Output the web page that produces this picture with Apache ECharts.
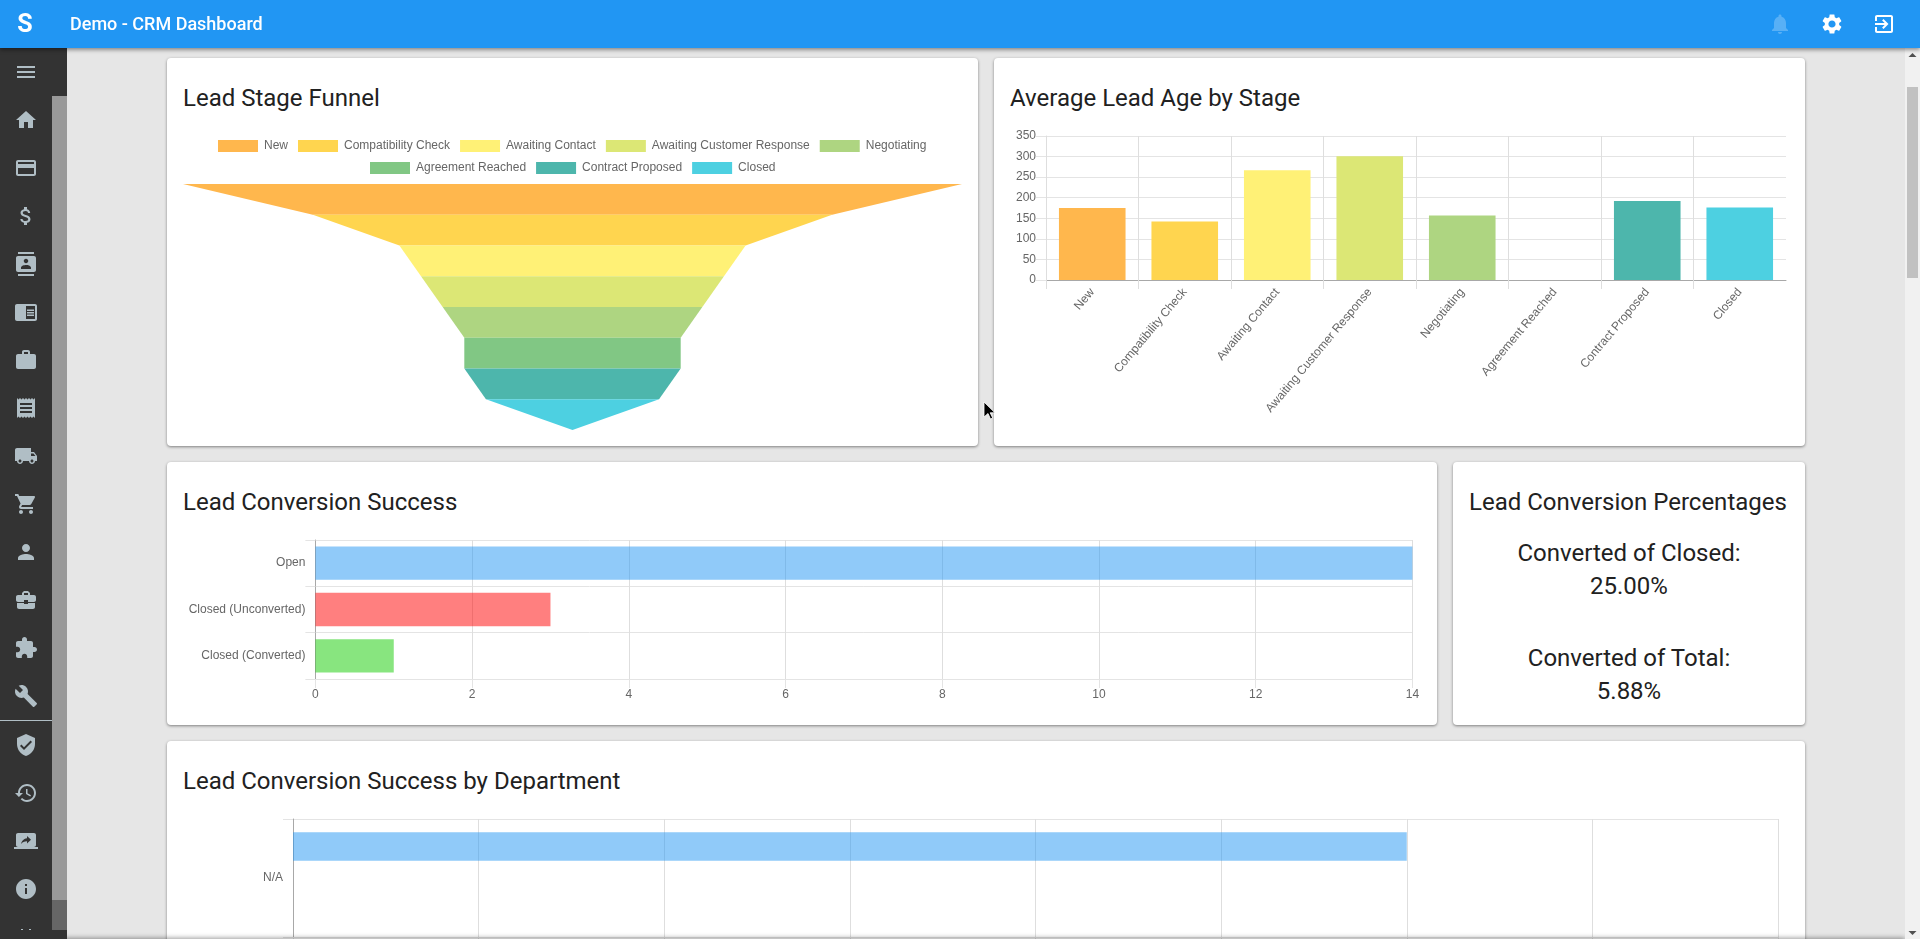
<!DOCTYPE html>
<html lang="en">
<head>
<meta charset="utf-8">
<title>Demo - CRM Dashboard</title>
<script src="https://cdn.jsdelivr.net/npm/echarts@6/dist/echarts.min.js"></script>
<style>
html,body{margin:0;padding:0;width:1920px;height:939px;overflow:hidden;background:#e6e6e6;font-family:Roboto,sans-serif;color:#212121}
.abs{position:absolute}
#header{left:0;top:0;width:1920px;height:48px;background:#2196f3;box-shadow:0 2px 4px rgba(0,0,0,.4);z-index:5;color:#fff}
#logo{left:16px;top:0;width:18px;text-align:center;line-height:48px;font-size:25px;font-weight:700}
#app{left:70px;top:0;line-height:48px;font-size:18px;font-weight:500;white-space:nowrap}
#side{left:0;top:48px;width:67px;height:891px;background:#333;z-index:4}
#track{left:52px;top:48px;width:15px;height:804px;background:#999}
#thumb{left:52px;top:852px;width:15px;height:30px;background:#666}
#divider{left:0;top:671.5px;width:52px;height:1px;background:#b0bec5}
.card{position:absolute;background:#fff;border-radius:4px;box-shadow:0 1px 3px rgba(0,0,0,.45);overflow:hidden}
.card h2{position:absolute;left:16px;top:22px;margin:0;font-size:24px;font-weight:400;line-height:36px;white-space:nowrap}
.chart{position:absolute;left:0;top:0}
#pct{position:absolute;left:0;right:0;top:75px;text-align:center;font-size:24px;line-height:33px}
#pct p{margin:0 0 39px}
#bar{left:1905px;top:48px;width:15px;height:891px;background:#f1f1f1;z-index:3}
#barThumb{left:2px;top:39px;width:11px;height:191px;background:#c1c1c1}
#fade{left:0;top:939px;width:1905px;height:10px;box-shadow:0 -1px 5px rgba(0,0,0,.4);z-index:2}
</style>
</head>
<body>
<div id="header" class="abs">
  <div id="logo" class="abs">S</div>
  <div id="app" class="abs">Demo - CRM Dashboard</div>
</div>
<div id="side" class="abs"></div>
<div id="bar" class="abs"><div id="barThumb" class="abs"></div></div>
<div id="fade" class="abs"></div>

<div class="card" style="left:167px;top:58px;width:811px;height:388px"><h2>Lead Stage Funnel</h2><div id="funnel" class="chart" style="width:811px;height:388px"></div></div>
<div class="card" style="left:994px;top:58px;width:811px;height:388px"><h2>Average Lead Age by Stage</h2><div id="age" class="chart" style="width:811px;height:388px"></div></div>
<div class="card" style="left:167px;top:462px;width:1270px;height:263px"><h2>Lead Conversion Success</h2><div id="success" class="chart" style="width:1270px;height:263px"></div></div>
<div class="card" style="left:1453px;top:462px;width:352px;height:263px"><h2>Lead Conversion Percentages</h2>
  <div id="pct"><p id="pctClosed"></p><p id="pctTotal"></p></div>
</div>
<div class="card" style="left:167px;top:741px;width:1638px;height:400px"><h2>Lead Conversion Success by Department</h2><div id="dept" class="chart" style="width:1638px;height:400px"></div></div>

<svg class="abs" style="left:983px;top:401px;z-index:6" width="14" height="21" viewBox="0 0 14 21"><path d="M1 1v15l4-3.5 2.5 5.5 2.2-1-2.5-5.2H12z" fill="#000" stroke="#fff" stroke-width=".8"/></svg>

<script>
// ---------- chart data ----------
const stages = ['New','Compatibility Check','Awaiting Contact','Awaiting Customer Response','Negotiating','Agreement Reached','Contract Proposed','Closed'];
const funnelCounts = [18,12,8,7,6,5,5,4];
const ageValues = [175,142,267,301,157,0,192,176];
const ageTicks = {min:0,max:350,step:50};
const outcomes = ['Open','Closed (Unconverted)','Closed (Converted)'];
const outcomeCounts = [14,3,1];
const departments = ['N/A'];
const deptOpen = [12];
const deptUnconverted = [0];
const deptConverted = [0];
const convertedOfClosed = ['Converted of Closed:','25.00%'];
const convertedOfTotal = ['Converted of Total:','5.88%'];
// ---------- palette ----------
const stageColors = ['#ffb74d','#ffd54f','#fff176','#dce775','#aed581','#81c784','#4db6ac','#4dd0e1'];
const outcomeColors = ['rgba(33,150,243,.5)','rgba(255,0,0,.5)','rgba(17,204,0,.5)'];

document.getElementById('pctClosed').innerHTML = convertedOfClosed.join('<br>');
document.getElementById('pctTotal').innerHTML = convertedOfTotal.join('<br>');

const FONT = '"Liberation Sans",Arial,sans-serif';
const GRID_H = '#e4e4e4', GRID_V = '#dedede', ZERO = '#a8a8a8', TXT = '#666';
const label = {color:TXT,fontSize:12,fontFamily:FONT};

// Funnel
echarts.init(document.getElementById('funnel')).setOption({
  animation:false,
  legend:[
    {left:51,top:82,padding:0,itemWidth:40,itemHeight:12,itemGap:10,icon:'rect',
     textStyle:Object.assign({padding:[0,0,0,1]},label),data:stages.slice(0,5)},
    {left:203,top:104,padding:0,itemWidth:40,itemHeight:12,itemGap:10,icon:'rect',
     textStyle:Object.assign({padding:[0,0,0,1]},label),data:stages.slice(5)}
  ],
  series:[{type:'funnel',left:16,top:126,width:779,height:246,min:0,max:18,minSize:0,maxSize:'100%',
    sort:'none',gap:0,label:{show:false},labelLine:{show:false},itemStyle:{borderWidth:0},
    data:stages.map((s,i)=>({name:s,value:funnelCounts[i],itemStyle:{color:stageColors[i]}}))}]
});

// Average age
echarts.init(document.getElementById('age')).setOption({
  animation:false,
  graphic:[{type:'rect',shape:{x:791,y:223,width:3,height:10},style:{fill:'#fff'},z:100}],
  grid:{left:52,top:78,width:740,height:144},
  xAxis:{type:'category',data:stages,
    axisLine:{lineStyle:{color:ZERO}},
    axisTick:{show:true,length:9,lineStyle:{color:GRID_V}},
    splitLine:{show:true,showMaxLine:false,lineStyle:{color:GRID_V}},
    axisLabel:Object.assign({rotate:50,interval:0,margin:10},label)},
  yAxis:{type:'value',min:ageTicks.min,max:ageTicks.max,interval:ageTicks.step,
    axisLine:{show:true,lineStyle:{color:GRID_V}},
    axisTick:{show:true,length:10,lineStyle:{color:GRID_H}},
    splitLine:{lineStyle:{color:GRID_H}},
    axisLabel:Object.assign({margin:10,padding:[0,0,2,0]},label)},
  series:[{type:'bar',barWidth:'72%',data:ageValues,itemStyle:{color:p=>stageColors[p.dataIndex]}}]
});

// Conversion success
echarts.init(document.getElementById('success')).setOption({
  animation:false,
  grid:{left:148.4,top:78,width:1097,height:139},
  xAxis:{type:'value',min:0,max:14,interval:2,
    axisLine:{show:true,lineStyle:{color:GRID_H}},
    axisTick:{show:true,length:9,lineStyle:{color:GRID_H}},
    splitLine:{lineStyle:{color:GRID_V}},
    axisLabel:Object.assign({margin:10},label)},
  yAxis:{type:'category',inverse:true,data:outcomes,
    axisLine:{lineStyle:{color:ZERO}},
    axisTick:{show:true,length:10,lineStyle:{color:GRID_H}},
    splitLine:{show:true,lineStyle:{color:GRID_H}},
    axisLabel:Object.assign({margin:10},label)},
  series:[{type:'bar',barWidth:'72%',data:outcomeCounts,itemStyle:{color:p=>outcomeColors[p.dataIndex]}}]
});

// Conversion by department (only the top of this chart is on screen)
const deptBar = (name,data,color)=>({type:'bar',name,data,barWidth:28.4,barGap:'11%',itemStyle:{color}});
echarts.init(document.getElementById('dept')).setOption({
  animation:false,
  grid:{left:126,top:78,width:1485,height:118},
  xAxis:{type:'value',min:0,max:16,interval:2,
    axisLine:{show:true,lineStyle:{color:GRID_H}},
    axisTick:{show:true,length:9,lineStyle:{color:GRID_H}},
    splitLine:{lineStyle:{color:GRID_V}},
    axisLabel:Object.assign({margin:10},label)},
  yAxis:{type:'category',inverse:true,data:departments,
    axisLine:{lineStyle:{color:ZERO}},
    axisTick:{show:true,length:10,lineStyle:{color:GRID_H}},
    splitLine:{show:true,lineStyle:{color:GRID_H}},
    axisLabel:Object.assign({margin:10},label)},
  series:[
    deptBar('Open',deptOpen,outcomeColors[0]),
    deptBar('Closed (Unconverted)',deptUnconverted,outcomeColors[1]),
    deptBar('Closed (Converted)',deptConverted,outcomeColors[2])
  ]
});

// ---------- page chrome icons ----------
const ICONS = {
 menu:'M3 18h18v-2H3v2zm0-5h18v-2H3v2zm0-7v2h18V6H3z',
 home:'M10 20v-6h4v6h5v-8h3L12 3 2 12h3v8z',
 card:'M20 4H4c-1.11 0-1.99.89-1.99 2L2 18c0 1.11.89 2 2 2h16c1.11 0 2-.89 2-2V6c0-1.11-.89-2-2-2zm0 14H4v-6h16v6zm0-10H4V6h16v2z',
 money:'M11.8 10.9c-2.27-.59-3-1.2-3-2.15 0-1.09 1.01-1.85 2.7-1.85 1.78 0 2.44.85 2.5 2.1h2.21c-.07-1.72-1.12-3.3-3.21-3.81V3h-3v2.16c-1.94.42-3.5 1.68-3.5 3.61 0 2.31 1.91 3.46 4.7 4.13 2.5.6 3 1.48 3 2.41 0 .69-.49 1.79-2.7 1.79-2.06 0-2.87-.92-2.98-2.1h-2.2c.12 2.19 1.76 3.42 3.68 3.83V21h3v-2.15c1.95-.37 3.5-1.5 3.5-3.55 0-2.84-2.43-3.81-4.7-4.4z',
 contacts:'M20 0H4v2h16V0zM4 24h16v-2H4v2zM20 4H4c-1.1 0-2 .9-2 2v12c0 1.1.9 2 2 2h16c1.1 0 2-.9 2-2V6c0-1.1-.9-2-2-2zm-8 2.75c1.24 0 2.25 1.01 2.25 2.25s-1.01 2.25-2.25 2.25S9.75 10.24 9.75 9 10.76 6.75 12 6.75zM17 17H7v-1.5c0-1.67 3.33-2.5 5-2.5s5 .83 5 2.5V17z',
 reader:'M13 12h7v1.5h-7zm0-2.5h7V11h-7zm0 5h7V16h-7zM21 4H3c-1.1 0-2 .9-2 2v13c0 1.1.9 2 2 2h18c1.1 0 2-.9 2-2V6c0-1.1-.9-2-2-2zm0 15h-9V6h9v13z',
 work:'M20 6h-4V4c0-1.11-.89-2-2-2h-4c-1.11 0-2 .89-2 2v2H4c-1.11 0-1.99.89-1.99 2L2 19c0 1.11.89 2 2 2h16c1.11 0 2-.89 2-2V8c0-1.11-.89-2-2-2zm-6 0h-4V4h4v2z',
 receipt:'M18 17H6v-2h12v2zm0-4H6v-2h12v2zm0-4H6V7h12v2zM3 22l1.5-1.5L6 22l1.5-1.5L9 22l1.5-1.5L12 22l1.5-1.5L15 22l1.5-1.5L18 22l1.5-1.5L21 22V2l-1.5 1.5L18 2l-1.5 1.5L15 2l-1.5 1.5L12 2l-1.5 1.5L9 2 7.5 3.5 6 2 4.5 3.5 3 2v20z',
 truck:'M20 8h-3V4H3c-1.1 0-2 .9-2 2v11h2c0 1.66 1.34 3 3 3s3-1.34 3-3h6c0 1.66 1.34 3 3 3s3-1.34 3-3h2v-5l-3-4zM6 18.5c-.83 0-1.5-.67-1.5-1.5s.67-1.5 1.5-1.5 1.5.67 1.5 1.5-.67 1.5-1.5 1.5zm13.5-9l1.96 2.5H17V9.5h2.5zm-1.5 9c-.83 0-1.5-.67-1.5-1.5s.67-1.5 1.5-1.5 1.5.67 1.5 1.5-.67 1.5-1.5 1.5z',
 cart:'M7 18c-1.1 0-1.99.9-1.99 2S5.9 22 7 22s2-.9 2-2-.9-2-2-2zM1 2v2h2l3.6 7.59-1.35 2.45c-.16.28-.25.61-.25.96 0 1.1.9 2 2 2h12v-2H7.42c-.14 0-.25-.11-.25-.25l.03-.12.9-1.63h7.45c.75 0 1.41-.41 1.75-1.03l3.58-6.49c.08-.14.12-.31.12-.48 0-.55-.45-1-1-1H5.21l-.94-2H1zm16 16c-1.1 0-1.99.9-1.99 2s.89 2 1.99 2 2-.9 2-2-.9-2-2-2z',
 person:'M12 12c2.21 0 4-1.79 4-4s-1.79-4-4-4-4 1.79-4 4 1.79 4 4 4zm0 2c-2.67 0-8 1.34-8 4v2h16v-2c0-2.66-5.33-4-8-4z',
 business:'M10 16v-1H3.01L3 19c0 1.11.89 2 2 2h14c1.11 0 2-.89 2-2v-4h-7v1h-4zm10-9h-4.01V5l-2-2h-4l-2 2v2H4c-1.1 0-2 .9-2 2v3c0 1.11.89 2 2 2h6v-2h4v2h6c1.1 0 2-.9 2-2V9c0-1.1-.9-2-2-2zm-6 0h-4V5h4v2z',
 extension:'M20.5 11H19V7c0-1.1-.9-2-2-2h-4V3.5C13 2.12 11.88 1 10.5 1S8 2.12 8 3.5V5H4c-1.1 0-1.99.9-1.99 2v3.8H3.5c1.49 0 2.7 1.21 2.7 2.7s-1.21 2.7-2.7 2.7H2V20c0 1.1.9 2 2 2h3.8v-1.5c0-1.49 1.21-2.7 2.7-2.7 1.49 0 2.7 1.21 2.7 2.7V22H17c1.1 0 2-.9 2-2v-4h1.5c1.38 0 2.5-1.12 2.5-2.5S21.88 11 20.5 11z',
 build:'M22.7 19l-9.1-9.1c.9-2.3.4-5-1.5-6.9-2-2-5-2.4-7.4-1.3L9 6 6 9 1.6 4.7C.4 7.1.9 10.1 2.9 12.1c1.9 1.9 4.6 2.4 6.9 1.5l9.1 9.1c.4.4 1 .4 1.4 0l2.3-2.3c.5-.4.5-1.1.1-1.4z',
 verified:'M12 1L3 5v6c0 5.55 3.84 10.74 9 12 5.16-1.26 9-6.45 9-12V5l-9-4zm-2 16l-4-4 1.41-1.41L10 14.17l6.59-6.59L18 9l-8 8z',
 history:'M13 3c-4.97 0-9 4.03-9 9H1l3.89 3.89.07.14L9 12H6c0-3.87 3.13-7 7-7s7 3.13 7 7-3.13 7-7 7c-1.93 0-3.68-.79-4.94-2.06l-1.42 1.42C8.27 19.99 10.51 21 13 21c4.97 0 9-4.03 9-9s-4.03-9-9-9zm-1 5v5l4.28 2.54.72-1.21-3.5-2.08V8H12z',
 share:'M20 18c1.1 0 1.99-.9 1.99-2L22 6c0-1.11-.9-2-2-2H4c-1.11 0-2 .89-2 2v10c0 1.1.89 2 2 2H0v2h24v-2h-4zm-7-3.53v-2.19c-2.78 0-4.61.85-6 2.72.56-2.67 2.11-5.33 6-5.87V7l4 3.73-4 3.74z',
 info:'M12 2C6.48 2 2 6.48 2 12s4.48 10 10 10 10-4.48 10-10S17.52 2 12 2zm1 15h-2v-6h2v6zm0-8h-2V7h2v2z',
 bell:'M12 22c1.1 0 2-.9 2-2h-4c0 1.1.89 2 2 2zm6-6v-5c0-3.07-1.64-5.64-4.5-6.32V4c0-.83-.67-1.5-1.5-1.5s-1.5.67-1.5 1.5v.68C7.63 5.36 6 7.92 6 11v5l-2 2v1h16v-1l-2-2z',
 gear:'M19.14 12.94c.04-.3.06-.61.06-.94 0-.32-.02-.64-.07-.94l2.03-1.58c.18-.14.23-.41.12-.61l-1.92-3.32c-.12-.22-.37-.29-.59-.22l-2.39.96c-.5-.38-1.03-.7-1.62-.94l-.36-2.54c-.04-.24-.24-.41-.48-.41h-3.84c-.24 0-.43.17-.47.41l-.36 2.54c-.59.24-1.13.57-1.62.94l-2.39-.96c-.22-.08-.47 0-.59.22L2.74 8.87c-.12.21-.08.47.12.61l2.03 1.58c-.05.3-.09.63-.09.94s.02.64.07.94l-2.03 1.58c-.18.14-.23.41-.12.61l1.92 3.32c.12.22.37.29.59.22l2.39-.96c.5.38 1.03.7 1.62.94l.36 2.54c.05.24.24.41.48.41h3.84c.24 0 .44-.17.47-.41l.36-2.54c.59-.24 1.13-.56 1.62-.94l2.39.96c.22.08.47 0 .59-.22l1.92-3.32c.12-.22.07-.47-.12-.61l-2.01-1.58zM12 15.6c-1.98 0-3.6-1.62-3.6-3.6s1.62-3.6 3.6-3.6 3.6 1.62 3.6 3.6-1.62 3.6-3.6 3.6z',
 exit:'M10.09 15.59L11.5 17l5-5-5-5-1.41 1.41L12.67 11H3v2h9.67l-2.58 2.59zM19 3H5c-1.11 0-2 .9-2 2v4h2V5h14v14H5v-4H3v4c0 1.1.89 2 2 2h14c1.1 0 2-.9 2-2V5c0-1.1-.9-2-2-2z'
};
function icon(parent,name,cx,cy,fill){
  parent.insertAdjacentHTML('beforeend',
   `<svg class="abs" style="left:${cx-12}px;top:${cy-12}px" width="24" height="24" viewBox="0 0 24 24"><path fill="${fill}" d="${ICONS[name]}"/></svg>`);
}
const side = document.getElementById('side');
side.insertAdjacentHTML('beforeend','<div id="track" class="abs"></div><div id="thumb" class="abs"></div><div id="divider" class="abs"></div>');
const navIcons = [['menu',72],['home',120],['card',168],['money',216],['contacts',264],['reader',312],['work',360],['receipt',408],['truck',456],['cart',504],['person',552],['business',600],['extension',648],['build',696],['verified',745],['history',793],['share',841],['info',889]];
navIcons.forEach(([n,y])=>icon(side,n,26,y-48,'#b0bec5'));
side.insertAdjacentHTML('beforeend','<div class="abs" style="left:21px;top:880.5px;width:2px;height:1.5px;background:#b0bec5"></div><div class="abs" style="left:29px;top:880.5px;width:2px;height:1.5px;background:#b0bec5"></div>');
const hdr = document.getElementById('header');
icon(hdr,'bell',1780,24,'rgba(255,255,255,.25)');
icon(hdr,'gear',1832,24,'#fff');
icon(hdr,'exit',1884,24,'#fff');
const sb = document.getElementById('bar');
sb.insertAdjacentHTML('beforeend','<svg class="abs" style="left:0;top:0" width="15" height="891"><path d="M7.5 5l4 4h-8z" fill="#505050"/><path d="M7.5 887l4-4h-8z" fill="#505050"/></svg>');
</script>
</body>
</html>
